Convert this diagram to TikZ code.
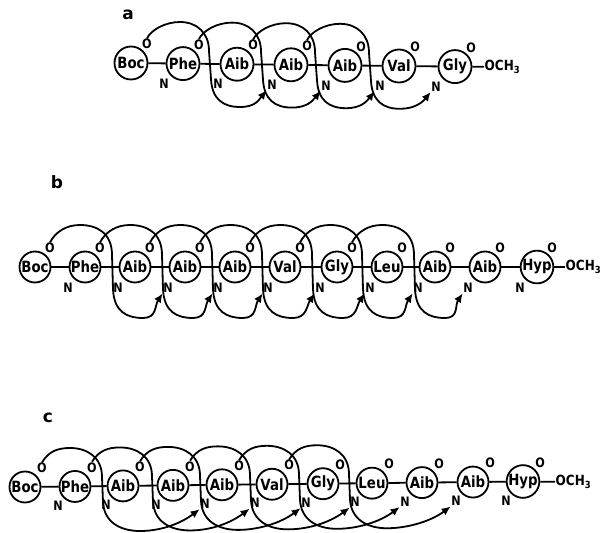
\documentclass[tikz,border=0pt]{standalone}
\usepackage{fontspec}
\setmainfont{DejaVu Sans}
\newfontfamily\narrowfont[FakeStretch=0.86]{DejaVu Sans}
\usetikzlibrary{arrows.meta}
\begin{document}
\begin{tikzpicture}[x=1pt,y=-1pt,
  res/.style={circle,draw,line width=1.8pt,minimum size=31pt,inner sep=0pt,font=\narrowfont\fontsize{15.5}{16}\selectfont\bfseries},
  resA/.style={res,minimum size=33pt},
  lab/.style={inner sep=0.5pt,font=\narrowfont\fontsize{13}{13}\selectfont\bfseries},
  endlab/.style={inner sep=0.5pt,anchor=west,font=\narrowfont\fontsize{14}{14}\selectfont\bfseries},
  bond/.style={line width=1.8pt},
  hb/.style={line width=1.8pt,-{Latex[length=9pt,width=8pt]}},
  rowlab/.style={font=\fontsize{17}{17}\selectfont\bfseries},
]
\useasboundingbox (0,0) rectangle (603,533);

% ---------------- row a ----------------
\node[rowlab] (la) at (128,15) {a};
\foreach \k/\x/\t in {0/131/Boc,1/183/Phe,2/237/Aib,3/291/Aib,4/345/Aib,5/399/Val,6/455/Gly} {
  \node[resA] (a\k) at (\x,{63+0.6*\k}) {\t};
  \node[lab] (aO\k) at ([shift={(16,-19)}]a\k.center) {O};
}
\foreach \k in {1,...,6} \node[lab] (aN\k) at ([shift={(-19,20)}]a\k.center) {N};
\foreach \k [evaluate=\k as \kk using int(\k+1)] in {0,...,5} \draw[bond] (a\k) -- (a\kk);
\node[endlab] (aE) at (484,67) {OCH\textsubscript{3}};
\draw[bond] (a6) -- (aE);
\foreach \i [evaluate=\i as \j using int(\i+3)] in {0,...,3} {
  \begin{scope}[shift={(a\i.center)}]
  \draw[hb] (aO\i.north) .. controls (20,-33) and (34,-41) .. (49,-41)
     .. controls (66,-41) and (78,-30) .. (78,-12) -- (80,16)
     .. controls (81,36) and (92,44) .. (109,44)
     .. controls (124,44) and +(-8,10) .. (aN\j.south west);
  \end{scope}
}

% ---------------- row b ----------------
\node[rowlab] (lb) at (57,182) {b};
\foreach \k/\x/\t in {0/35/Boc,1/85/Phe,2/135/Aib,3/185/Aib,4/235/Aib,5/285/Val,6/337/Gly,7/387/Leu,8/435/Aib,9/485/Aib,10/537/Hyp} {
  \node[res] (b\k) at (\x,267) {\t};
  \node[lab] (bO\k) at ([shift={(15,-19)}]b\k.center) {O};
}
\foreach \k in {1,...,10} \node[lab] (bN\k) at ([shift={(-17,21)}]b\k.center) {N};
\foreach \k [evaluate=\k as \kk using int(\k+1)] in {0,...,9} \draw[bond] (b\k) -- (b\kk);
\node[endlab] (bE) at (565,267) {OCH\textsubscript{3}};
\draw[bond] (b10) -- (bE);
\foreach \i [evaluate=\i as \j using int(\i+3)] in {0,...,6} {
  \begin{scope}[shift={(b\i.center)}]
  \draw[hb] (bO\i.north) .. controls (21,-36) and (32,-42) .. (45,-42)
     .. controls (62,-42) and (77,-34) .. (77,-12) -- (78,22)
     .. controls (79,45) and (92,51) .. (108,51)
     .. controls (122,51) and +(-8,12) .. (bN\j.south west);
  \end{scope}
}

% ---------------- row c ----------------
\node[rowlab] (lc) at (48,418) {c};
\foreach \k/\x/\t in {0/25/Boc,1/75/Phe,2/123/Aib,3/173/Aib,4/222/Aib,5/272/Val,6/323/Gly,7/372/Leu,8/422/Aib,9/473/Aib,10/523/Hyp} {
  \node[res] (c\k) at (\x,{487-0.55*\k}) {\t};
  \node[lab] (cO\k) at ([shift={(17,-19)}]c\k.center) {O};
}
\foreach \k in {1,...,10} \node[lab] (cN\k) at ([shift={(-17,19)}]c\k.center) {N};
\foreach \k [evaluate=\k as \kk using int(\k+1)] in {0,...,9} \draw[bond] (c\k) -- (c\kk);
\node[endlab] (cE) at (555,482) {OCH\textsubscript{3}};
\draw[bond] (c10) -- (cE);
\foreach \i [evaluate=\i as \j using int(\i+4)] in {0,...,5} {
  \begin{scope}[shift={(c\i.center)}]
  \draw[hb] (cO\i.north) .. controls (24,-36) and (33,-39) .. (45,-39)
     .. controls (62,-39) and (77,-30) .. (77,-10) -- (78,15)
     .. controls (79,35) and (95,44) .. (115,44)
     .. controls (135,44) and +(-20,15) .. (cN\j.south west);
  \end{scope}
}
\end{tikzpicture}
\end{document}
